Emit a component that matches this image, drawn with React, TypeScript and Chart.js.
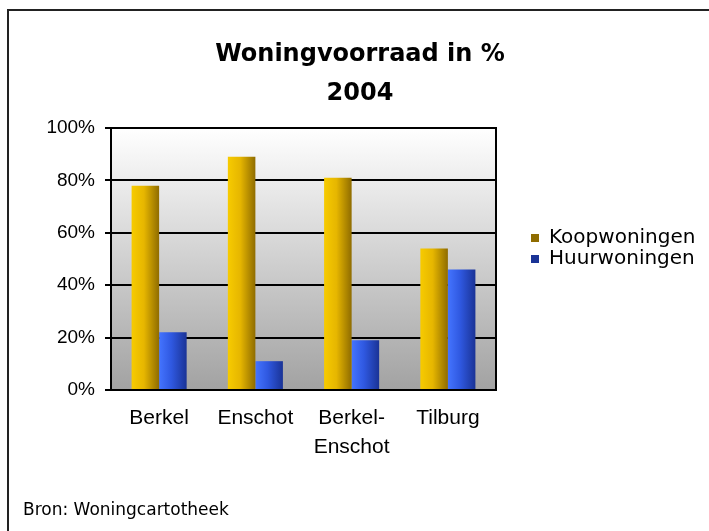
import React, { useEffect, useRef } from 'react';
import { Chart, registerables } from 'chart.js';

Chart.register(...registerables);

const categories: (string | string[])[] = ['Berkel', 'Enschot', ['Berkel-', 'Enschot'], 'Tilburg'];
const koopwoningen = [78, 89, 81, 54];
const huurwoningen = [22, 11, 19, 46];
const seriesNames = ['Koopwoningen', 'Huurwoningen'];
const yTicks = [0, 20, 40, 60, 80, 100];
const titleLines = ['Woningvoorraad in %', '2004'];
const sourceText = 'Bron: Woningcartotheek';

const CAT_PCT = 0.572;

const goldStops: [number, string][] = [
  [0, '#f7cb00'],
  [0.45, '#e6b600'],
  [1, '#8f6c00'],
];
const blueStops: [number, string][] = [
  [0, '#4474ff'],
  [0.45, '#2f58e0'],
  [1, '#1a3396'],
];

function barGradient(ctx: any, dsIndex: number, stops: [number, string][], solid: string) {
  const chart = ctx.chart;
  const xs = chart.scales && chart.scales.x;
  if (!chart.chartArea || !xs || ctx.dataIndex === undefined || ctx.type !== 'data') return solid;
  const n = categories.length;
  const catW = xs.width / n;
  const groupW = catW * CAT_PCT;
  const barW = groupW / 2;
  const center = xs.getPixelForValue(ctx.dataIndex);
  const left = center - groupW / 2 + dsIndex * barW;
  const g = chart.ctx.createLinearGradient(left, 0, left + barW, 0);
  stops.forEach(([o, c]) => g.addColorStop(o, c));
  return g;
}

const plotBg = {
  id: 'plotBg',
  beforeDraw(chart: any) {
    const { ctx, chartArea: a } = chart;
    if (!a) return;
    const g = ctx.createLinearGradient(0, a.top, 0, a.bottom);
    g.addColorStop(0, '#ffffff');
    g.addColorStop(1, '#a2a2a2');
    ctx.save();
    ctx.fillStyle = g;
    ctx.fillRect(a.left, a.top, a.right - a.left, a.bottom - a.top);
    ctx.restore();
  },
};

// place the legend box to the right of the plot area
const legendPlacer = {
  id: 'legendPlacer',
  afterLayout(chart: any) {
    const lg = chart.legend;
    if (!lg) return;
    const a = chart.chartArea;
    lg.left = a.right + 34;
    lg.right = chart.width;
    lg.width = lg.right - lg.left;
    lg.top = 227;
    lg.bottom = a.bottom;
    lg.height = lg.bottom - lg.top;
  },
};

export default function App() {
  const ref = useRef<HTMLCanvasElement | null>(null);

  useEffect(() => {
    if (!ref.current) return;
    const chart = new Chart(ref.current, {
      type: 'bar',
      data: {
        labels: categories as any,
        datasets: [
          {
            label: seriesNames[0],
            data: koopwoningen,
            backgroundColor: (c: any) => barGradient(c, 0, goldStops, '#c9a200'),
            borderWidth: 0,
            categoryPercentage: CAT_PCT,
            barPercentage: 1,
          },
          {
            label: seriesNames[1],
            data: huurwoningen,
            backgroundColor: (c: any) => barGradient(c, 1, blueStops, '#2f52d8'),
            borderWidth: 0,
            categoryPercentage: CAT_PCT,
            barPercentage: 1,
          },
        ],
      },
      options: {
        animation: false,
        responsive: false,
        layout: { padding: { left: 23, right: 12, top: 0, bottom: 0 } },
        scales: {
          x: {
            grid: { display: false, drawTicks: false },
            border: { display: true, color: '#000', width: 2 },
            ticks: {
              color: '#000',
              font: { family: "'Liberation Sans', sans-serif", size: 21, lineHeight: 1.38 },
              padding: 14,
              maxRotation: 0,
              autoSkip: false,
            },
            afterFit(s: any) {
              s.height = 110.6;
            },
          },
          y: {
            min: 0,
            max: 100,
            afterBuildTicks(s: any) {
              s.ticks = yTicks.map((v) => ({ value: v }));
            },
            ticks: {
              color: '#000',
              font: { family: "'Liberation Sans', sans-serif", size: 19 },
              padding: 10,
              callback: (v: any) => v + '%',
            },
            grid: { color: '#000', lineWidth: 2, tickLength: 6, drawTicks: true },
            border: { color: '#000', width: 2 },
            afterFit(s: any) {
              s.width = 88;
            },
          },
          y2: {
            position: 'right',
            min: 0,
            max: 100,
            ticks: { display: false },
            grid: { display: false, drawTicks: false },
            border: { display: true, color: '#000', width: 2 },
            afterFit(s: any) {
              s.width = 201;
            },
          },
        },
        plugins: {
          title: {
            display: true,
            text: titleLines,
            color: '#000',
            font: { family: "'DejaVu Sans', sans-serif", size: 24, weight: 'bold', lineHeight: 1.646 },
            padding: { top: 35, bottom: 14 },
          },
          subtitle: {
            display: true,
            position: 'bottom',
            align: 'start',
            text: sourceText,
            color: '#000',
            font: { family: "'DejaVu Sans', sans-serif", size: 17, lineHeight: 1.2 },
            padding: { top: 0, bottom: 10 },
          },
          legend: {
            position: 'chartArea',
            align: 'start',
            labels: {
              color: '#000',
              boxWidth: 8,
              boxHeight: 8,
              padding: 1,
              font: { family: "'DejaVu Sans', sans-serif", size: 20 },
            },
          },
          tooltip: { enabled: false },
        },
      } as any,
      plugins: [plotBg, legendPlacer],
    });
    return () => chart.destroy();
  }, []);

  return (
    <div style={{ position: 'fixed', left: 0, top: 0, width: 709, height: 531, background: '#fff', overflow: 'hidden' }}>
      <div
        style={{
          position: 'absolute',
          left: 7,
          top: 9,
          width: 720,
          height: 540,
          border: '2px solid #222',
          boxSizing: 'border-box',
        }}
      />
      <canvas ref={ref} width={709} height={531} style={{ position: 'absolute', left: 0, top: 0, display: 'block' }} />
    </div>
  );
}
